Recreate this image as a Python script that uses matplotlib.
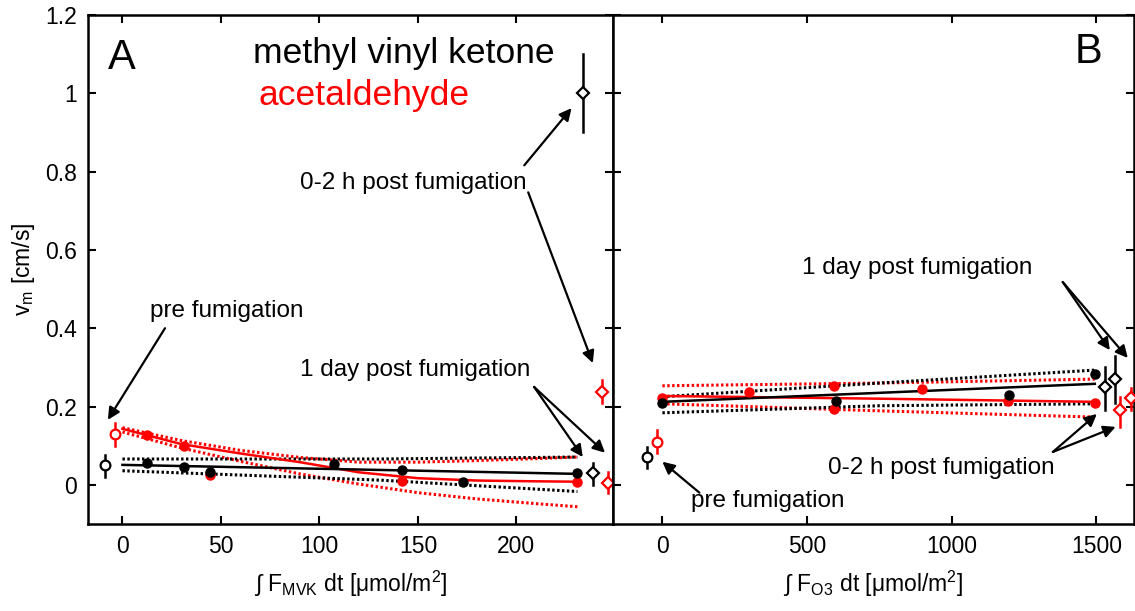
import matplotlib.pyplot as plt

plt.rcParams['font.family'] = ['Liberation Sans', 'DejaVu Sans']
plt.rcParams['mathtext.fontset'] = 'custom'
plt.rcParams['mathtext.rm'] = 'Liberation Sans'

RED = '#ff0000'

# ---- panel A: deposition velocity vs integrated MVK flux ----
a_x_mvk = [12.7, 31.5, 44.7, 107.6, 142, 173, 231]
a_v_mvk = [0.057, 0.046, 0.034, 0.054, 0.037, 0.006, 0.031]
a_x_ace = [12.7, 31.5, 44.7, 142, 231]
a_v_ace = [0.128, 0.100, 0.026, 0.009, 0.008]

# fits and confidence bands
a_fit_x_mvk = [0, 131, 231]
a_fit_mvk = [0.051, 0.038, 0.028]
a_hi_mvk = [0.066, 0.066, 0.071]
a_lo_mvk = [0.036, 0.012, -0.017]

a_fit_x_ace = [0, 30, 60, 90, 120, 150, 180, 210, 231]
a_fit_ace = [0.143, 0.104, 0.080, 0.058, 0.032, 0.017, 0.011, 0.009, 0.008]
a_hi_ace = [0.146, 0.113, 0.088, 0.070, 0.058, 0.058, 0.062, 0.067, 0.071]
a_lo_ace = [0.135, 0.094, 0.060, 0.028, 0.002, -0.020, -0.036, -0.048, -0.056]

# reference points: pre fumigation, 0-2 h post, 1 day post
a_pre_x = [-8.9, -3.8]
a_pre_v = [0.050, 0.130]
a_pre_lo = [0.020, 0.100]
a_pre_hi = [0.077, 0.158]
a_post_x = [233.7, 243.6]
a_post_v = [1.000, 0.237]
a_post_lo = [0.900, 0.210]
a_post_hi = [1.100, 0.268]
a_day_x = [239.0, 246.5]
a_day_v = [0.030, 0.005]
a_day_lo = [0.000, -0.020]
a_day_hi = [0.056, 0.033]

# ---- panel B: deposition velocity vs integrated O3 flux ----
b_x_mvk = [0, 600, 1200, 1495]
b_v_mvk = [0.209, 0.214, 0.230, 0.283]
b_x_ace = [0, 301, 595, 595, 896, 1194, 1495]
b_v_ace = [0.222, 0.237, 0.253, 0.194, 0.245, 0.213, 0.209]

b_fit_x = [0, 751, 1495]
b_fit_mvk = [0.212, 0.235, 0.258]
b_hi_mvk = [0.225, 0.260, 0.293]
b_lo_mvk = [0.184, 0.202, 0.207]
b_fit_ace = [0.227, 0.220, 0.212]
b_hi_ace = [0.253, 0.260, 0.270]
b_lo_ace = [0.207, 0.189, 0.173]

b_pre_x = [-52, -17]
b_pre_v = [0.071, 0.110]
b_pre_lo = [0.043, 0.082]
b_pre_hi = [0.097, 0.140]
b_day_x = [1529, 1564]
b_day_v = [0.250, 0.270]
b_day_lo = [0.190, 0.210]
b_day_hi = [0.300, 0.330]
b_post_x = [1581, 1619]
b_post_v = [0.190, 0.222]
b_post_lo = [0.148, 0.190]
b_post_hi = [0.225, 0.247]

fig = plt.figure(figsize=(11.35, 6.11), dpi=100)
axA = fig.add_axes([0.0775, 0.1424, 0.4625, 0.8331])
axB = fig.add_axes([0.540, 0.1424, 0.459, 0.8331])


def band(ax, x, fit, hi, lo, col):
    ax.plot(x, fit, '-', color=col, lw=1.8, zorder=3)
    ax.plot(x, hi, color=col, lw=2.2, ls=(0, (0.8, 0.8)), zorder=2)
    ax.plot(x, lo, color=col, lw=2.2, ls=(0, (0.8, 0.8)), zorder=2)


def open_pts(ax, x, v, lo, hi, cols, mk):
    for xi, vi, l, h, c in zip(x, v, lo, hi, cols):
        ax.plot([xi, xi], [l, h], color=c, lw=1.8, zorder=4)
        ax.plot(xi, vi, mk, ms=7 if mk == 'o' else 6, mfc='white', mec=c,
                mew=1.6, zorder=5)


def arrow(ax, tail, head):
    ax.annotate('', xy=head, xytext=tail,
                arrowprops=dict(arrowstyle='-|>', color='black', lw=1.6,
                                mutation_scale=18, shrinkA=0, shrinkB=0))


# panel A
band(axA, a_fit_x_ace, a_fit_ace, a_hi_ace, a_lo_ace, RED)
band(axA, a_fit_x_mvk, a_fit_mvk, a_hi_mvk, a_lo_mvk, 'black')
axA.plot(a_x_ace, a_v_ace, 'o', color=RED, ms=6.5, zorder=4)
axA.plot(a_x_mvk, a_v_mvk, 'o', color='black', ms=6.5, zorder=4)
open_pts(axA, a_pre_x, a_pre_v, a_pre_lo, a_pre_hi, ['black', RED], 'o')
open_pts(axA, a_post_x, a_post_v, a_post_lo, a_post_hi, ['black', RED], 'D')
open_pts(axA, a_day_x, a_day_v, a_day_lo, a_day_hi, ['black', RED], 'D')

axA.set_xlim(-17.5, 249)
axA.set_ylim(-0.1, 1.2)
axA.set_xticks([0, 50, 100, 150, 200])
axA.set_yticks([0, 0.2, 0.4, 0.6, 0.8, 1.0, 1.2])
axA.set_yticklabels(['0', '0.2', '0.4', '0.6', '0.8', '1', '1.2'])
axA.set_xlabel('∫ F$_\\mathregular{MVK}$ dt [μmol/m$^\\mathregular{2}$]', fontsize=16.5, labelpad=8)
axA.set_ylabel('v$_\\mathregular{m}$ [cm/s]', fontsize=16.5, labelpad=6)

axA.text(0.038, 0.894, 'A', transform=axA.transAxes, fontsize=30)
axA.text(0.315, 0.906, 'methyl vinyl ketone', transform=axA.transAxes, fontsize=25.5)
axA.text(0.324, 0.823, 'acetaldehyde', transform=axA.transAxes, fontsize=25.5, color=RED)

axA.text(90, 0.770, '0-2 h post fumigation', fontsize=17.5, va='center')
arrow(axA, (204, 0.816), (228, 0.962))
arrow(axA, (206, 0.747), (238.8, 0.311))
axA.text(90, 0.293, '1 day post fumigation', fontsize=17.5, va='center')
arrow(axA, (209, 0.25), (233.7, 0.071))
arrow(axA, (209, 0.25), (245, 0.082))
axA.text(14, 0.444, 'pre fumigation', fontsize=17.5, va='center')
arrow(axA, (21.6, 0.40), (-7.4, 0.166))

# panel B
band(axB, b_fit_x, b_fit_ace, b_hi_ace, b_lo_ace, RED)
band(axB, b_fit_x, b_fit_mvk, b_hi_mvk, b_lo_mvk, 'black')
axB.plot(b_x_ace, b_v_ace, 'o', color=RED, ms=6.5, zorder=4)
axB.plot(b_x_mvk, b_v_mvk, 'o', color='black', ms=6.5, zorder=4)
open_pts(axB, b_pre_x, b_pre_v, b_pre_lo, b_pre_hi, ['black', RED], 'o')
open_pts(axB, b_day_x, b_day_v, b_day_lo, b_day_hi, ['black', 'black'], 'D')
open_pts(axB, b_post_x, b_post_v, b_post_lo, b_post_hi, [RED, RED], 'D')

axB.set_xlim(-171, 1630)
axB.set_ylim(-0.1, 1.2)
axB.set_xticks([0, 500, 1000, 1500])
axB.set_yticks([0, 0.2, 0.4, 0.6, 0.8, 1.0, 1.2])
axB.set_yticklabels([])
axB.set_xlabel('∫ F$_\\mathregular{O3}$ dt [μmol/m$^\\mathregular{2}$]', fontsize=16.5, labelpad=8)

axB.text(0.887, 0.906, 'B', transform=axB.transAxes, fontsize=30)
axB.text(481, 0.554, '1 day post fumigation', fontsize=17.5, va='center')
arrow(axB, (1384, 0.518), (1547, 0.344))
arrow(axB, (1384, 0.518), (1609, 0.324))
axB.text(571, 0.043, '0-2 h post fumigation', fontsize=17.5, va='center')
arrow(axB, (1350, 0.084), (1502, 0.181))
arrow(axB, (1350, 0.084), (1567, 0.148))
axB.text(100, -0.041, 'pre fumigation', fontsize=17.5, va='center')
arrow(axB, (128, -0.02), (0, 0.059))

for ax in (axA, axB):
    ax.tick_params(direction='in', top=True, right=True, length=6, width=1.5,
                   labelsize=16.5, pad=8)
    for s in ax.spines.values():
        s.set_linewidth(1.8)

fig.savefig('out.png', dpi=100)
